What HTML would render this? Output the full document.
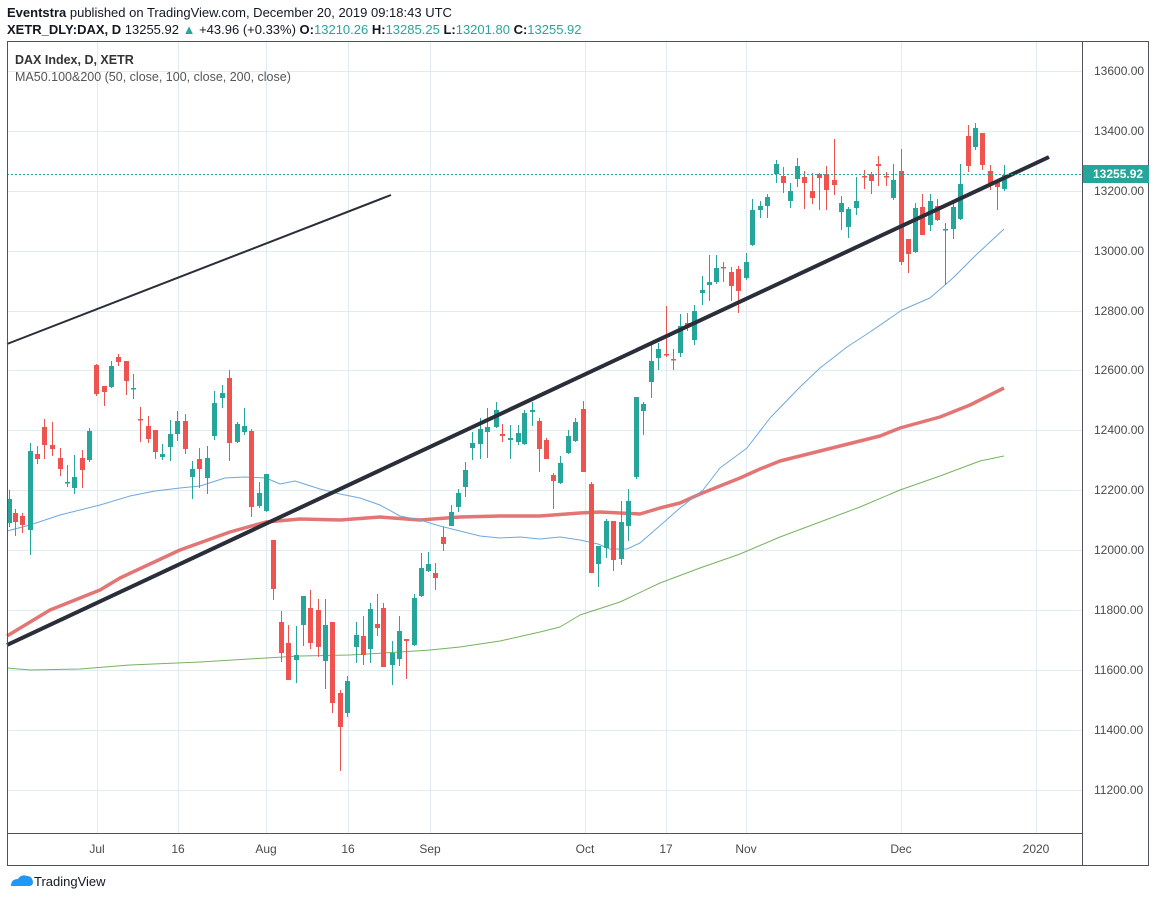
<!DOCTYPE html>
<html><head><meta charset="utf-8"><style>
body{margin:0;background:#fff;font-family:"Liberation Sans",sans-serif}
svg text{font-family:"Liberation Sans",sans-serif}
</style></head><body>
<svg width="1156" height="899" xmlns="http://www.w3.org/2000/svg">
<rect width="1156" height="899" fill="#fff"/>
<text x="7" y="17" font-size="13" fill="#131722"><tspan font-weight="bold">Eventstra</tspan> published on TradingView.com, December 20, 2019 09:18:43 UTC</text>
<text x="7" y="34" font-size="13" fill="#131722"><tspan font-weight="bold">XETR_DLY:DAX, D</tspan> 13255.92 <tspan fill="#26a69a">▲</tspan> +43.96 (+0.33%) <tspan font-weight="bold">O:</tspan><tspan fill="#26a69a">13210.26</tspan> <tspan font-weight="bold">H:</tspan><tspan fill="#26a69a">13285.25</tspan> <tspan font-weight="bold">L:</tspan><tspan fill="#26a69a">13201.80</tspan> <tspan font-weight="bold">C:</tspan><tspan fill="#26a69a">13255.92</tspan></text>
<g stroke="#e1ecf2" stroke-width="1">
<line x1="7" y1="71.5" x2="1082" y2="71.5"/><line x1="7" y1="131.5" x2="1082" y2="131.5"/><line x1="7" y1="191.5" x2="1082" y2="191.5"/><line x1="7" y1="251.5" x2="1082" y2="251.5"/><line x1="7" y1="311.5" x2="1082" y2="311.5"/><line x1="7" y1="370.5" x2="1082" y2="370.5"/><line x1="7" y1="430.5" x2="1082" y2="430.5"/><line x1="7" y1="490.5" x2="1082" y2="490.5"/><line x1="7" y1="550.5" x2="1082" y2="550.5"/><line x1="7" y1="610.5" x2="1082" y2="610.5"/><line x1="7" y1="670.5" x2="1082" y2="670.5"/><line x1="7" y1="730.5" x2="1082" y2="730.5"/><line x1="7" y1="790.5" x2="1082" y2="790.5"/>
<line x1="97.5" y1="41" x2="97.5" y2="833"/><line x1="178.5" y1="41" x2="178.5" y2="833"/><line x1="266.5" y1="41" x2="266.5" y2="833"/><line x1="348.5" y1="41" x2="348.5" y2="833"/><line x1="430.5" y1="41" x2="430.5" y2="833"/><line x1="585.5" y1="41" x2="585.5" y2="833"/><line x1="666.5" y1="41" x2="666.5" y2="833"/><line x1="746.5" y1="41" x2="746.5" y2="833"/><line x1="901.5" y1="41" x2="901.5" y2="833"/><line x1="1036.5" y1="41" x2="1036.5" y2="833"/>
</g>
<text x="15" y="64" font-size="12.5" font-weight="bold" fill="#333">DAX Index, D, XETR</text>
<text x="15" y="81" font-size="12.5" fill="#555">MA50.100&amp;200 (50, close, 100, close, 200, close)</text>
<g fill="none" stroke-linejoin="round">
<polyline stroke="#6aa84f" stroke-width="1" opacity="0.9" points="7,668 30,670 80,669 130,665 200,662 266,658 300,656 350,655 400,652 430,650 460,647 500,641 540,632 560,627 580,615 620,602 660,583 700,568 740,554 780,537 820,522 860,507 900,490 940,476 980,461 1004,456"/>
<polyline stroke="#e06666" stroke-width="3.5" opacity="0.9" points="7,636 50,610 100,590 120,578 180,550 230,532 266,522 300,519 340,520 380,517 420,520 460,517 500,516 540,516 580,513 600,512 620,513 640,514 660,508 680,503 700,494 720,486 740,478 760,469 780,461 800,456 840,446 880,436 900,428 940,417 970,405 1004,388"/>
<polyline stroke="#6fa8dc" stroke-width="1" points="7,531 30,525 60,515 100,505 130,496 155,491 180,488 200,486 225,478 245,477 266,478 280,484 295,481 320,489 340,494 360,498 380,505 400,516 420,520 440,526 460,531 480,536 500,538 520,537 540,539 560,537 580,540 598,544 610,549 627,549 640,543 663,523 680,508 703,490 720,468 747,448 770,418 800,387 820,368 847,347 870,332 902,310 930,298 953,278 975,256 990,242 1004,229"/>
</g>
<path stroke="#26a69a" stroke-width="1" fill="none" d="M9.5 490V527M30.5 443V555M67.5 465V487M74.5 455V494M89.5 428V462M111.5 361V388M133.5 374V399M162.5 444V460M170.5 420V461M177.5 411V441M192.5 461V499M207.5 446V494M214.5 391V440M222.5 385V408M237.5 422V443M244.5 408V435M259.5 482V508M266.5 474V512M296.5 626V683M303.5 596V646M325.5 599V689M347.5 676V717M356.5 622V663M370.5 603V663M392.5 641V685M399.5 616V666M414.5 594V646M421.5 553V597M428.5 552V572M451.5 505V526M458.5 489V512M465.5 462V497M472.5 432V460M480.5 418V459M487.5 408V458M496.5 402V428M510.5 425V459M518.5 425V445M524.5 410V445M532.5 402V426M560.5 456V484M568.5 430V454M575.5 418V442M598.5 546V587M606.5 519V558M621.5 501V565M628.5 489V541M636.5 397V479M643.5 402V435M651.5 345V398M658.5 343V370M680.5 314V357M694.5 305V345M702.5 276V305M709.5 255V301M716.5 255V284M746.5 253V280M752.5 199V246M760.5 201V218M767.5 194V218M776.5 160V183M790.5 183V208M797.5 158V187M841.5 196V230M848.5 207V238M856.5 177V215M893.5 164V200M915.5 203V253M930.5 194V231M945.5 223V285M953.5 201V239M960.5 164V220M975.5 123V150M1004.5 165V191"/>
<g fill="#26a69a">
<rect x="7" y="499" width="5" height="24"/><rect x="28" y="451" width="5" height="79"/><rect x="65" y="482" width="5" height="1.5"/><rect x="72" y="477" width="5" height="11"/><rect x="87" y="431" width="5" height="29"/><rect x="109" y="366" width="5" height="21"/><rect x="131" y="388" width="5" height="1.5"/><rect x="160" y="454" width="5" height="3"/><rect x="168" y="434" width="5" height="13"/><rect x="175" y="421" width="5" height="13"/><rect x="190" y="469" width="5" height="8"/><rect x="205" y="458" width="5" height="20"/><rect x="212" y="403" width="5" height="33"/><rect x="220" y="393" width="5" height="5"/><rect x="235" y="424" width="5" height="18"/><rect x="242" y="426" width="5" height="6"/><rect x="257" y="493" width="5" height="13"/><rect x="264" y="474" width="5" height="37"/>
<rect x="294" y="655" width="5" height="5"/><rect x="301" y="596" width="5" height="29"/><rect x="323" y="625" width="5" height="36"/><rect x="345" y="681" width="5" height="32"/><rect x="354" y="635" width="5" height="12"/><rect x="368" y="609" width="5" height="40"/><rect x="390" y="653" width="5" height="12"/><rect x="397" y="631" width="5" height="28"/><rect x="412" y="598" width="5" height="47"/><rect x="419" y="568" width="5" height="28"/><rect x="426" y="564" width="5" height="7"/><rect x="449" y="512" width="5" height="14"/><rect x="456" y="493" width="5" height="14"/><rect x="463" y="470" width="5" height="17"/><rect x="470" y="443" width="5" height="5"/><rect x="478" y="429" width="5" height="15"/><rect x="485" y="427" width="5" height="5"/><rect x="494" y="410" width="5" height="17"/><rect x="508" y="438" width="5" height="2"/><rect x="516" y="433" width="5" height="9"/><rect x="522" y="413" width="5" height="31"/><rect x="530" y="410" width="5" height="2"/><rect x="558" y="463" width="5" height="20"/><rect x="566" y="436" width="5" height="17"/><rect x="573" y="422" width="5" height="19"/>
<rect x="596" y="546" width="5" height="18"/><rect x="604" y="521" width="5" height="27"/><rect x="619" y="522" width="5" height="37"/><rect x="626" y="501" width="5" height="25"/><rect x="634" y="397" width="5" height="80"/><rect x="641" y="404" width="5" height="7"/><rect x="649" y="361" width="5" height="21"/><rect x="656" y="349" width="5" height="9"/><rect x="678" y="326" width="5" height="27"/><rect x="692" y="311" width="5" height="29"/><rect x="700" y="290" width="5" height="3"/><rect x="707" y="282" width="5" height="3"/><rect x="714" y="268" width="5" height="14"/><rect x="744" y="262" width="5" height="16"/><rect x="750" y="210" width="5" height="35"/><rect x="758" y="206" width="5" height="4"/><rect x="765" y="197" width="5" height="9"/><rect x="774" y="164" width="5" height="10"/><rect x="788" y="191" width="5" height="10"/><rect x="795" y="166" width="5" height="13"/><rect x="839" y="203" width="5" height="9"/><rect x="846" y="209" width="5" height="18"/><rect x="854" y="201" width="5" height="7"/><rect x="891" y="180" width="5" height="18"/><rect x="913" y="208" width="5" height="44"/><rect x="928" y="201" width="5" height="24"/><rect x="943" y="229" width="5" height="1.5"/><rect x="951" y="207" width="5" height="22"/><rect x="958" y="184" width="5" height="35"/><rect x="973" y="128" width="5" height="19"/><rect x="1002" y="175" width="5" height="14"/>
</g>
<path stroke="#ef5350" stroke-width="1" fill="none" d="M15.5 509V536M22.5 513V533M37.5 446V464M44.5 419V459M52.5 422V456M60.5 448V476M82.5 450V488M96.5 364V396M104.5 386V406M118.5 354V366M126.5 361V395M140.5 407V442M148.5 416V443M155.5 430V459M185.5 414V454M199.5 448V488M229.5 370V461M251.5 429V517M273.5 540V600M281.5 611V662M288.5 625V680M310.5 590V649M318.5 599V657M332.5 622V713M340.5 690V771M363.5 616V665M377.5 594V636M383.5 603V667M406.5 639V679M435.5 563V590M443.5 527V551M502.5 424V442M539.5 418V472M546.5 438V459M553.5 473V509M583.5 401V472M591.5 482V573M613.5 521V571M666.5 306V357M673.5 349V370M687.5 313V331M723.5 262V282M731.5 267V301M738.5 266V313M783.5 167V193M804.5 171V209M812.5 173V204M819.5 173V210M826.5 166V210M834.5 139V195M864.5 170V189M871.5 172V194M878.5 156V186M886.5 172V186M901.5 149V265M908.5 239V273M922.5 194V235M937.5 199V221M968.5 125V172M982.5 133V170M990.5 165V190M997.5 180V210"/>
<g fill="#ef5350">
<rect x="13" y="513" width="5" height="9"/><rect x="20" y="516" width="5" height="9"/><rect x="35" y="454" width="5" height="5"/><rect x="42" y="427" width="5" height="18"/><rect x="50" y="445" width="5" height="4"/><rect x="58" y="458" width="5" height="11"/><rect x="80" y="458" width="5" height="12"/><rect x="94" y="365" width="5" height="29"/><rect x="102" y="386" width="5" height="6"/><rect x="116" y="357" width="5" height="5"/><rect x="124" y="361" width="5" height="20"/><rect x="138" y="419" width="5" height="1.5"/><rect x="146" y="426" width="5" height="13"/><rect x="153" y="430" width="5" height="22"/><rect x="183" y="421" width="5" height="28"/><rect x="197" y="459" width="5" height="10"/><rect x="227" y="378" width="5" height="65"/><rect x="249" y="431" width="5" height="76"/>
<rect x="271" y="540" width="5" height="49"/><rect x="279" y="622" width="5" height="31"/><rect x="286" y="643" width="5" height="37"/><rect x="308" y="608" width="5" height="35"/><rect x="316" y="610" width="5" height="37"/><rect x="330" y="622" width="5" height="81"/><rect x="338" y="693" width="5" height="34"/><rect x="361" y="636" width="5" height="19"/><rect x="375" y="624" width="5" height="4"/><rect x="381" y="608" width="5" height="59"/><rect x="404" y="639" width="5" height="2"/><rect x="433" y="573" width="5" height="5"/><rect x="441" y="537" width="5" height="7"/><rect x="500" y="434" width="5" height="2"/><rect x="537" y="421" width="5" height="28"/><rect x="544" y="440" width="5" height="19"/><rect x="551" y="475" width="5" height="6"/><rect x="581" y="409" width="5" height="63"/>
<rect x="589" y="484" width="5" height="89"/><rect x="611" y="521" width="5" height="39"/><rect x="664" y="354" width="5" height="1.5"/><rect x="671" y="359" width="5" height="1.5"/><rect x="685" y="323" width="5" height="3"/><rect x="721" y="267" width="5" height="1.5"/><rect x="729" y="272" width="5" height="14"/><rect x="736" y="269" width="5" height="22"/><rect x="781" y="176" width="5" height="7"/><rect x="802" y="177" width="5" height="6"/><rect x="810" y="191" width="5" height="7"/><rect x="817" y="174" width="5" height="4"/><rect x="824" y="174" width="5" height="16"/><rect x="832" y="180" width="5" height="5"/><rect x="862" y="176" width="5" height="1.5"/><rect x="869" y="174" width="5" height="7"/><rect x="876" y="164" width="5" height="2"/><rect x="884" y="176" width="5" height="1.5"/><rect x="899" y="171" width="5" height="91"/><rect x="906" y="239" width="5" height="15"/><rect x="920" y="207" width="5" height="28"/><rect x="935" y="206" width="5" height="14"/><rect x="966" y="136" width="5" height="30"/><rect x="980" y="133" width="5" height="32"/><rect x="988" y="171" width="5" height="12"/><rect x="995" y="180" width="5" height="7"/>
</g>
<line x1="7" y1="344" x2="391" y2="195" stroke="#2a2e39" stroke-width="2"/>
<line x1="7" y1="645" x2="1049" y2="157" stroke="#2a2e39" stroke-width="4"/>
<line x1="7" y1="174.5" x2="1082" y2="174.5" stroke="#26a69a" stroke-dasharray="2,2"/>
<rect x="7.5" y="41.5" width="1141" height="824" fill="none" stroke="#50535e"/>
<line x1="1082.5" y1="41" x2="1082.5" y2="866" stroke="#50535e"/>
<line x1="7" y1="833.5" x2="1082" y2="833.5" stroke="#50535e"/>
<g font-size="12" fill="#4a4a4a">
<text x="1094" y="75">13600.00</text><text x="1094" y="135">13400.00</text><text x="1094" y="195">13200.00</text><text x="1094" y="255">13000.00</text><text x="1094" y="315">12800.00</text><text x="1094" y="374">12600.00</text><text x="1094" y="434">12400.00</text><text x="1094" y="494">12200.00</text><text x="1094" y="554">12000.00</text><text x="1094" y="614">11800.00</text><text x="1094" y="674">11600.00</text><text x="1094" y="734">11400.00</text><text x="1094" y="794">11200.00</text>
</g>
<rect x="1083" y="165" width="66" height="18" fill="#26a69a"/>
<text x="1093" y="178" font-size="12" font-weight="bold" fill="#fff">13255.92</text>
<g font-size="12" fill="#4a4a4a" text-anchor="middle">
<text x="97" y="853">Jul</text><text x="178" y="853">16</text><text x="266" y="853">Aug</text><text x="348" y="853">16</text><text x="430" y="853">Sep</text><text x="585" y="853">Oct</text><text x="666" y="853">17</text><text x="746" y="853">Nov</text><text x="901" y="853">Dec</text><text x="1036" y="853">2020</text>
</g>
<path d="M11 886 q0-7 7-7 q3-5 9-3 q5 0 6 6 q0 4-4 4z" fill="#2196f3"/>
<text x="34" y="886" font-size="13" fill="#131722">TradingView</text>
</svg>
</body></html>
